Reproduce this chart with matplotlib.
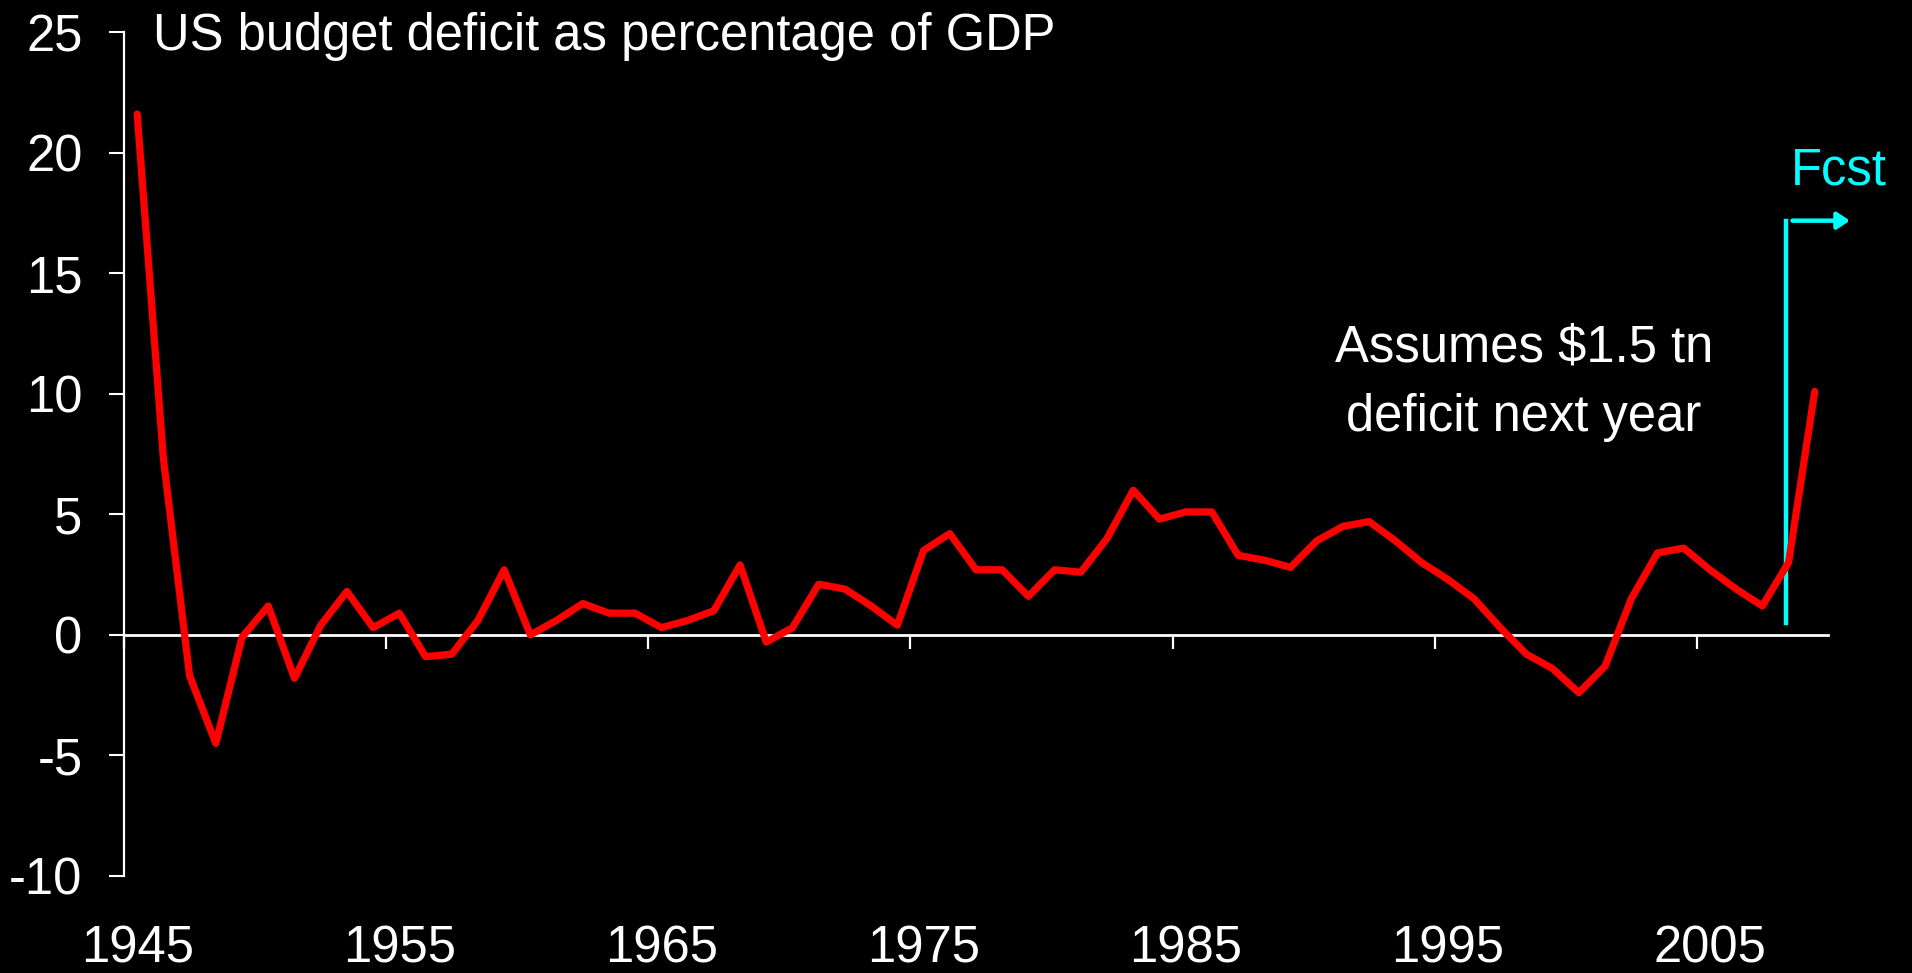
import matplotlib
matplotlib.use('Agg')
import matplotlib.pyplot as plt

plt.rcParams['font.family'] = ['Liberation Sans', 'DejaVu Sans']

# US budget deficit, % of GDP
years = list(range(1945, 2010))
deficit = [21.6, 7.3, -1.7, -4.5, -0.1, 1.2, -1.8, 0.4, 1.8, 0.3,
           0.9, -0.9, -0.8, 0.6, 2.7, 0.0, 0.6, 1.3, 0.9, 0.9,
           0.3, 0.6, 1.0, 2.9, -0.3, 0.3, 2.1, 1.9, 1.2, 0.4,
           3.5, 4.2, 2.7, 2.7, 1.6, 2.7, 2.6, 4.0, 6.0, 4.8,
           5.1, 5.1, 3.3, 3.1, 2.8, 3.9, 4.5, 4.7, 3.9, 3.0,
           2.3, 1.5, 0.3, -0.8, -1.4, -2.4, -1.3, 1.5, 3.4, 3.6,
           2.7, 1.9, 1.2, 3.0, 10.1]
yticks = [-10, -5, 0, 5, 10, 15, 20, 25]
xlabel_years = [1945, 1955, 1965, 1975, 1985, 1995, 2005]
xtick_marks = [y - 0.5 for y in xlabel_years]
fcst_year = 2007.92

title = 'US budget deficit as percentage of GDP'
note = 'Assumes $1.5 tn\ndeficit next year'

red = '#FF0000'
cyan = '#00FFFF'
fs = 36.5

fig = plt.figure(figsize=(19.12, 9.73), dpi=100, facecolor='black')
ax = fig.add_axes([0.0649, 0.0997, 0.956 - 0.0649, 0.967 - 0.0997])
ax.set_facecolor('black')

ax.plot(years, deficit, color=red, lw=5.2, solid_capstyle='round',
        solid_joinstyle='round', zorder=5)

ax.set_xlim(1944.5, 2009.5)
ax.set_ylim(-10, 25)

# y axis
ax.spines['right'].set_visible(False)
ax.spines['top'].set_visible(False)
ax.spines['left'].set_color('white')
ax.spines['left'].set_linewidth(1.6)
ax.set_yticks(yticks)
ax.set_yticklabels([str(v) for v in yticks])
ax.tick_params(axis='y', colors='white', direction='out', length=11,
               width=1.5, pad=19, labelsize=fs)

# zero line with the tick marks
ax.spines['bottom'].set_position(('data', 0))
ax.spines['bottom'].set_color('white')
ax.spines['bottom'].set_linewidth(2.0)
ax.set_xticks(xtick_marks)
ax.tick_params(axis='x', colors='white', direction='out', length=10,
               width=1.6, labelbottom=False)

# year labels along the bottom edge
sec = ax.secondary_xaxis('bottom')
sec.spines['bottom'].set_visible(False)
sec.set_xticks(xlabel_years)
sec.set_xticklabels([str(y) for y in xlabel_years])
sec.tick_params(axis='x', colors='white', length=0, pad=35, labelsize=fs)

# forecast marker
ax.plot([fcst_year, fcst_year], [0.5, 17.18], color=cyan, lw=3.2,
        zorder=4, clip_on=False)
ax.annotate('', xy=(2010.34, 17.18), xytext=(2008.15, 17.18),
            arrowprops=dict(arrowstyle='-|>,head_length=0.3,head_width=0.2',
                            color=cyan, lw=3.2, mutation_scale=25,
                            shrinkA=0, shrinkB=0),
            annotation_clip=False)
ax.text(2008.08, 18.67, 'Fcst', color=cyan, fontsize=fs, ha='left',
        va='baseline', clip_on=False)

ax.text(1945.6, 24.27, title, color='white', fontsize=fs, ha='left',
        va='baseline')
ax.text(1997.9, 10.45, note, color='white', fontsize=fs, ha='center',
        va='center', multialignment='center', linespacing=1.55)

fig.savefig('out.png', dpi=100, facecolor='black')
